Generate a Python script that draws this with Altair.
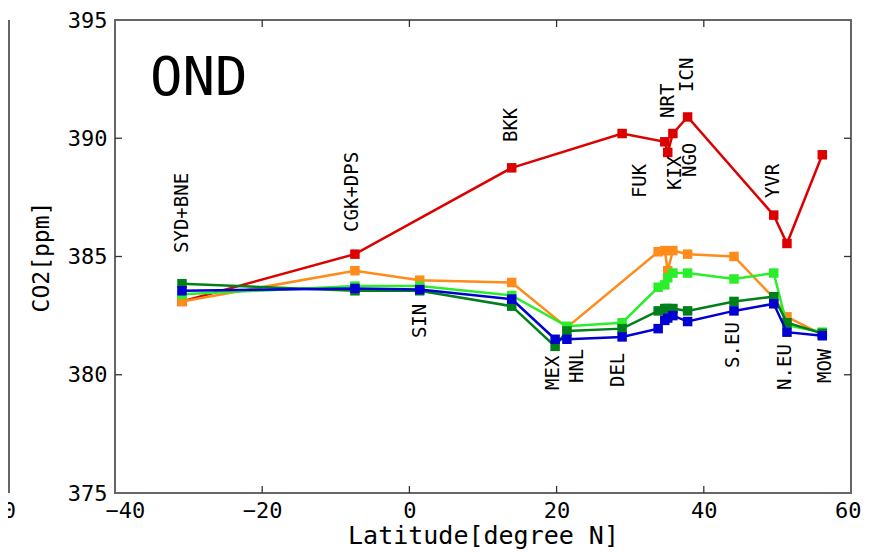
import altair as alt
import pandas as pd

# ---------------- data ----------------
stations = ["SYD+BNE", "CGK+DPS", "SIN", "BKK", "MEX", "HNL", "DEL", "FUK",
            "KIX", "NGO", "NRT", "ICN", "S.EU", "YVR", "N.EU", "MOW"]
latitude = [-30.9, -7.4, 1.4, 13.9, 19.8, 21.4, 28.9, 33.8,
            34.7, 35.1, 35.8, 37.8, 44.1, 49.5, 51.3, 56.1]

co2_red = [383.1, 385.1, None, 388.75, None, None, 390.2, None,
           389.85, 389.4, 390.2, 390.9, None, 386.75, 385.55, 389.3]
co2_orange = [383.1, 384.4, 384.0, 383.9, None, 382.0, None, 385.2,
              385.25, 384.4, 385.25, 385.1, 385.0, 383.25, 382.45, 381.7]
co2_lightgreen = [383.4, 383.75, 383.75, 383.35, None, 382.05, 382.2, 383.7,
                  383.8, 384.1, 384.3, 384.3, 384.05, 384.3, 382.1, 381.8]
co2_darkgreen = [383.85, 383.55, 383.55, 382.9, 381.2, 381.85, 381.95, 382.7,
                 382.8, 382.8, 382.8, 382.7, 383.1, 383.3, 382.2, 381.75]
co2_blue = [383.55, 383.65, 383.6, 383.2, 381.5, 381.5, 381.6, 381.95,
            382.3, 382.4, 382.5, 382.25, 382.7, 383.0, 381.8, 381.65]

series_values = [co2_red, co2_orange, co2_lightgreen, co2_darkgreen, co2_blue]
series_colors = ["#dd0000", "#ff8c1a", "#2aee2a", "#00801a", "#0000d2"]

# station label anchors (lower end of the vertical text)
label_lat = [-30.9, -7.8, 1.4, 13.8, 19.5, 22.8, 28.3, 31.3,
             36.1, 38.1, 35.1, 37.7, 44.0, 49.4, 51.0, 56.5]
label_co2 = [385.15, 386.04, 381.55, 389.84, 379.36, 379.65, 379.48, 387.47,
             387.81, 388.36, 390.86, 391.96, 380.29, 387.47, 379.36, 379.65]

x_ticks = [-40, -20, 0, 20, 40, 60]
y_ticks = [375, 380, 385, 390, 395]
inner_x_ticks = [-20, 0, 20, 40]
inner_y_ticks = [380, 385, 390]

panel_label = ["OND"]

# ---------------- chart ----------------
W, H = 736, 473
FONT = "DejaVu Sans Mono"
TICK = 7

xscale = alt.Scale(domain=[-40, 60], nice=False, zero=False)
yscale = alt.Scale(domain=[375, 395], nice=False, zero=False)

xaxis = alt.Axis(title="Latitude[degree N]", values=x_ticks, format="d",
                 grid=False, domain=False, ticks=False, tickSize=0,
                 labelFlush=True, labelFlushOffset=10,
                 labelOverlap=False, labelPadding=7,
                 labelFont=FONT, labelFontSize=22, labelColor="black",
                 titleFont=FONT, titleFontSize=25, titleFontWeight="normal",
                 titleColor="black", titlePadding=2)
yaxis = alt.Axis(title="CO2[ppm]", values=y_ticks, format="d",
                 grid=False, domain=False, ticks=False, tickSize=0,
                 labelFlush=False, labelOverlap=False, labelPadding=8,
                 labelFont=FONT, labelFontSize=22, labelColor="black",
                 titleFont=FONT, titleFontSize=23, titleFontWeight="normal",
                 titleColor="black", titlePadding=14)

X = alt.X("lat:Q", scale=xscale, axis=xaxis)
Y = alt.Y("co2:Q", scale=yscale, axis=yaxis)

layers = []

# inward tick marks on all four sides
xt = pd.DataFrame({"lat": inner_x_ticks})
yt = pd.DataFrame({"co2": inner_y_ticks})
tick_style = dict(color="#333333", strokeWidth=1.3)
layers.append(alt.Chart(xt).mark_rule(**tick_style).encode(
    x=X, y=alt.value(0), y2=alt.value(TICK)))
layers.append(alt.Chart(xt).mark_rule(**tick_style).encode(
    x=X, y=alt.value(H - TICK), y2=alt.value(H)))
layers.append(alt.Chart(yt).mark_rule(**tick_style).encode(
    y=Y, x=alt.value(0), x2=alt.value(TICK)))
layers.append(alt.Chart(yt).mark_rule(**tick_style).encode(
    y=Y, x=alt.value(W - TICK), x2=alt.value(W)))

# fragment of the neighbouring panel at the far left
frag = pd.DataFrame({"t": ["60"]})
layers.append(alt.Chart(frag).mark_rule(color="#666666", strokeWidth=2).encode(
    x=alt.value(-106), y=alt.value(0), y2=alt.value(H)))
layers.append(alt.Chart(frag).mark_text(
    font=FONT, fontSize=22, align="right", baseline="top", color="black").encode(
    text="t:N", x=alt.value(-99), y=alt.value(H + 8)))

# data series
for vals, col in zip(series_values, series_colors):
    df = pd.DataFrame({"lat": latitude, "co2": vals, "station": stations}).dropna()
    base = alt.Chart(df).encode(x=X, y=Y, order="lat:Q")
    layers.append(base.mark_line(color=col, strokeWidth=2.5))
    layers.append(base.mark_point(shape="square", filled=True, size=90,
                                  color=col, opacity=1))

# station labels (vertical)
lab = pd.DataFrame({"lat": label_lat, "co2": label_co2, "name": stations})
layers.append(alt.Chart(lab).mark_text(
    angle=270, align="left", baseline="middle", font=FONT, fontSize=19,
    color="black").encode(x=X, y=Y, text="name:N"))

# panel label
layers.append(alt.Chart(pd.DataFrame({"t": panel_label})).mark_text(
    font=FONT, fontSize=54, align="left", baseline="alphabetic",
    color="black").encode(text="t:N", x=alt.value(35), y=alt.value(75)))

chart = alt.layer(*layers).properties(
    width=W, height=H,
    padding={"left": 107, "top": 12, "right": 12, "bottom": 58},
    autosize=alt.AutoSizeParams(type="none"),
).configure_view(stroke="#666666", strokeWidth=2)

chart.save("out.html", embed_options={"renderer": "svg", "actions": False})
